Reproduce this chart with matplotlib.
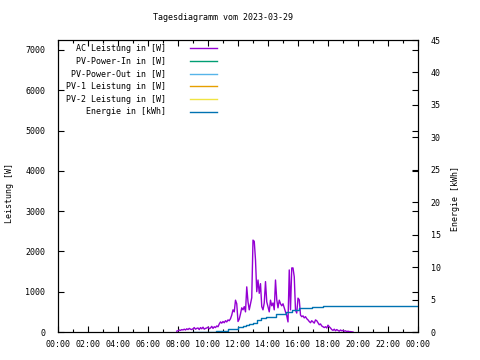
import matplotlib
matplotlib.use("Agg")
import matplotlib.pyplot as plt
import numpy as np

title = "Tagesdiagramm vom 2023-03-29"
ylabel_left = "Leistung [W]"
ylabel_right = "Energie [kWh]"

# AC power, 5-minute samples starting 07:55
ac_start_hour = 7 + 55 / 60
ac_step_min = 5
ac_power = [
    20,
    30, 50, 40, 60, 50, 70, 50, 80, 60, 90, 70, 60,
    80, 110, 70, 90, 100, 60, 110, 80, 120, 70, 90, 100,
    120, 80, 100, 140, 90, 130, 110, 150, 130, 200, 250, 220,
    260, 230, 280, 250, 300, 280, 330, 420, 550, 500, 790, 700,
    260, 320, 450, 600, 550, 630, 500, 1120, 750, 550, 700, 850,
    2280, 2250, 1790, 1000, 1290, 960, 1200, 630, 550, 720, 1250, 750,
    630, 500, 790, 650, 720, 550, 1290, 800, 600, 790, 700, 650,
    700, 600, 500, 400, 250, 1540, 550, 1590, 1590, 1370, 540, 470,
    840, 800, 420, 380, 400, 350, 380, 330, 300, 260, 230, 280,
    250, 220, 300, 280, 230, 180, 200, 150, 130, 110, 130, 100,
    170, 130, 100, 60, 40, 70, 30, 60, 40, 20, 50, 30,
    40, 20, 30, 10, 20, 10, 10, 5, 0,
]

# Energy (kWh)
energy_times = ["09:00", "09:30", "10:00", "10:30", "10:45", "11:00", "11:20",
                "11:40", "12:00", "12:20", "12:30", "12:45", "13:00", "13:15",
                "13:30", "13:50", "14:30", "15:10", "15:35", "16:05", "16:55",
                "17:40", "24:00"]
energy_vals = [0.0, 0.0, 0.05, 0.1, 0.15, 0.2, 0.45, 0.5, 0.7, 0.85, 1.07, 1.2,
               1.37, 1.83, 2.09, 2.34, 2.7, 3.1, 3.46, 3.77, 3.92, 4.07, 4.07]

legend_labels = ["AC Leistung in [W]", "PV-Power-In in [W]", "PV-Power-Out in [W]",
                 "PV-1 Leistung in [W]", "PV-2 Leistung in [W]", "Energie in [kWh]"]
legend_colors = ["#9400d3", "#009e73", "#56b4e9", "#e69f00", "#f0e442", "#0072b2"]

x_tick_hours = list(range(0, 25, 2))
x_tick_labels = ["00:00", "02:00", "04:00", "06:00", "08:00", "10:00", "12:00",
                 "14:00", "16:00", "18:00", "20:00", "22:00", "00:00"]
y_ticks = [0, 1000, 2000, 3000, 4000, 5000, 6000, 7000]
y2_ticks = [0, 5, 10, 15, 20, 25, 30, 35, 40, 45]

FONT = "DejaVu Sans Mono"
FS = 6
plt.rcParams["font.family"] = FONT

fig = plt.figure(figsize=(4.8, 3.6), dpi=100)
ax = fig.add_axes([58 / 480, 1 - 332 / 360, 360 / 480, 292 / 360])
ax2 = ax.twinx()

ac_x = ac_start_hour + np.arange(len(ac_power)) * ac_step_min / 60
ax.plot(ac_x, ac_power, color=legend_colors[0], lw=1.0, zorder=3)
for c in legend_colors[1:5]:
    ax.plot([], [], color=c, lw=1.0)

def to_h(s):
    h, m = s.split(":")
    return int(h) + int(m) / 60

e_x = [to_h(t) for t in energy_times]
ax2.plot(e_x, energy_vals, color=legend_colors[5], lw=1.0, drawstyle="steps-post")

ax.set_xlim(0, 24)
ax.set_ylim(0, 7246)
ax2.set_ylim(0, 45)

ax.set_xticks(x_tick_hours)
ax.set_xticklabels(x_tick_labels)
ax.set_xticks(range(0, 25), minor=True)
ax.set_yticks(y_ticks)
ax2.set_yticks(y2_ticks)

ax.tick_params(axis="x", which="both", direction="in", top=True, labelsize=FS, pad=6)
ax.tick_params(axis="x", which="major", length=4, width=0.8)
ax.tick_params(axis="x", which="minor", length=2.5, width=0.8)
ax.tick_params(axis="y", direction="in", left=True, right=True, labelsize=FS,
               pad=9, length=4, width=0.8)
ax2.tick_params(axis="y", direction="in", labelsize=FS, pad=9, length=4, width=0.8)

for a in (ax, ax2):
    for sp in a.spines.values():
        sp.set_linewidth(0.8)
        sp.set_color("black")

# legend (gnuplot style: right-aligned text, sample to the right)
ty0 = (332 - 48.3) / 292
dy = 12.7 / 292
tx = (166 - 58) / 360
lx1, lx2 = (190 - 58) / 360, (217 - 58) / 360
for i, (lab, col) in enumerate(zip(legend_labels, legend_colors)):
    yy = ty0 - i * dy
    ax.text(tx, yy, lab, transform=ax.transAxes, ha="right", va="center",
            fontsize=FS, family=FONT)
    ax.plot([lx1, lx2], [yy, yy], transform=ax.transAxes, color=col, lw=1.0,
            clip_on=False)

fig.text(223 / 480, 1 - 18 / 360, title, ha="center", va="center", fontsize=FS)
fig.text(10 / 480, 1 - 193 / 360, ylabel_left, rotation=90, ha="center",
         va="center", fontsize=FS)
fig.text(455 / 480, 1 - 198 / 360, ylabel_right, rotation=90, ha="center",
         va="center", fontsize=FS)

fig.savefig("out.png", dpi=100)
